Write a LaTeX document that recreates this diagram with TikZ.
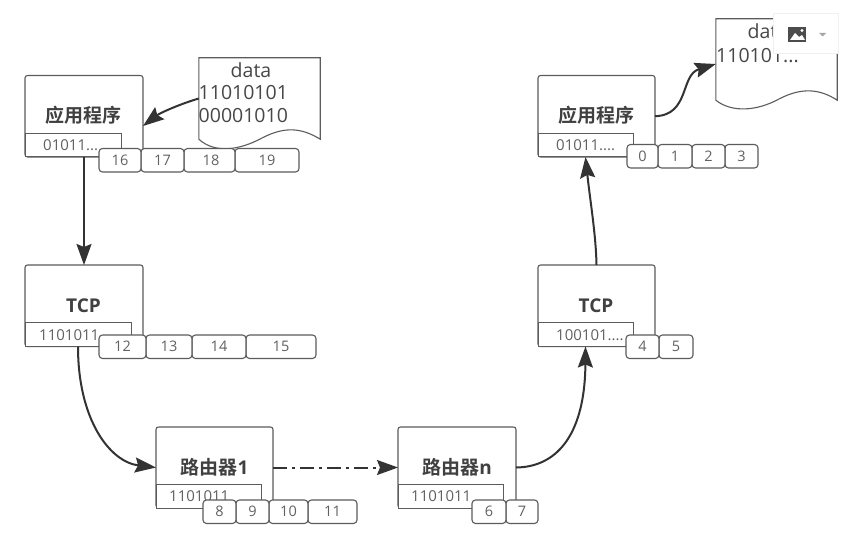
\documentclass[tikz,border=0pt]{standalone}
\usepackage{fontspec}
\setmainfont{Open Sans}
\newfontfamily\cjk{Noto Sans CJK SC}[BoldFont={Noto Sans CJK SC Bold}]
\usetikzlibrary{arrows.meta,calc}
\definecolor{ln}{gray}{0.36}
\definecolor{tx}{gray}{0.38}
\definecolor{ar}{gray}{0.2}
\tikzset{
  devbox/.style={draw=ln,line width=1.1pt,fill=white,rounded corners=2.5pt,anchor=north west,inner sep=0pt,outer sep=0pt},
  inbox/.style={draw=ln,line width=1pt,fill=white,anchor=south west,inner sep=0pt,outer sep=0pt},
  intext/.style={anchor=west,inner sep=0pt,font=\fontsize{15}{15}\selectfont,text=tx},
  cellbox/.style={draw=ln,line width=1.1pt,fill=white,rounded corners=3.5pt,anchor=north west,inner sep=0pt,outer sep=0pt,minimum height=23.5pt,font=\fontsize{14.5}{14.5}\selectfont,text=tx},
  title/.style={font=\fontsize{19}{19}\selectfont\cjk\bfseries,text=black!75,inner sep=0pt},
  doc/.style={draw=ln,line width=1.1pt,fill=white},
  doctext/.style={font=\fontsize{19.5}{19.5}\selectfont,text=black!72,inner sep=0pt},
  conn/.style={draw=ar,line width=2pt,-{Stealth[length=21pt,width=15pt,inset=3pt]}},
  docanchor/.style={inner sep=0pt,minimum width=121pt,minimum height=81pt}
}
\newcommand{\lat}{\normalfont\fontsize{19}{19}\selectfont\bfseries}
% name, x, y, w, h, inner w, title, inner text, text offset
\newcommand{\devnode}[9]{%
  \node[devbox,minimum width=#4pt,minimum height=#5pt] (#1) at (#2,#3) {};
  \node[title] (#1t) at ($(#1.center)+(0,-0.5)$) {#7};
  \node[inbox,minimum width=#6pt,minimum height=23.5pt] (#1i) at (#1.south west) {};
  \node[intext] (#1x) at ($(#1i.west)+(#9,0)$) {#8};
}
\newcommand{\cellnode}[5]{%
  \node[cellbox,minimum width=#4pt] (#1) at (#2,#3) {#5};
}
\begin{document}
\begin{tikzpicture}[x=1pt,y=-1pt]
\useasboundingbox (0,0) rectangle (859,534);
\fill[white] (0,0) rectangle (859,534);

% documents
\node[docanchor] (docl) at (259.5,98.5) {};
\draw[doc] (docl.north west) -- (docl.north east) -- (docl.south east)
  .. controls (302,128) and (285,126) .. (262,138)
  .. controls (240,150) and (215,154) .. (docl.south west) -- cycle;
\node[doctext] (docla) at (251,70) {data};
\node[doctext,anchor=west] (doclb) at (198.5,92.5) {11010101};
\node[doctext,anchor=west] (doclc) at (198.5,116) {00001010};

\node[docanchor] (docr) at (776.5,59.5) {};
\draw[doc] (docr.north west) -- (docr.north east) -- (docr.south east)
  .. controls (820,89) and (802,87) .. (779,99)
  .. controls (757,111) and (732,113) .. (docr.south west) -- cycle;
\node[doctext] (docra) at (768,31) {data};
\node[doctext,anchor=west] (docrb) at (716,56) {110101...};

% devices
\devnode{appl}{25}{75.5}{118}{81.5}{96}{\hspace{-2pt}应用程序}{01011...}{18}
\devnode{tcpl}{25}{265}{118}{81.5}{106}{\hspace{-1pt}\lat TCP}{1101011}{14}
\devnode{rtra}{156}{427}{117}{81}{105}{\hspace{0pt}路由器\lat 1}{1101011}{13}
\devnode{rtrn}{398}{427}{118}{81}{105}{\hspace{0pt}路由器\lat n}{1101011}{13}
\devnode{tcpr}{538}{265}{117}{81.5}{95}{\hspace{-1pt}\lat TCP}{100101....}{18}
\devnode{appr}{538}{75.5}{117}{81.5}{95}{\hspace{-1pt}应用程序}{01011....}{18}

% cells
\cellnode{c19}{235}{148.5}{64}{19}
\cellnode{c18}{184}{148.5}{51}{\hspace{3pt}18}
\cellnode{c17}{141}{148.5}{43}{17}
\cellnode{c16}{99}{148.5}{42}{16}
\cellnode{c15}{246}{335}{70}{15}
\cellnode{c14}{192}{335}{54}{14}
\cellnode{c13}{146}{335}{46}{13}
\cellnode{c12}{99}{335}{47}{12}
\cellnode{c11}{308}{500}{49}{11}
\cellnode{c10}{269}{500}{39}{10}
\cellnode{c9}{236}{500}{33}{9}
\cellnode{c8}{203}{500}{33}{8}
\cellnode{c7}{506}{500}{32}{7}
\cellnode{c6}{472}{500}{34}{6}
\cellnode{c5}{659}{335}{34}{5}
\cellnode{c4}{626}{335}{33}{4}
\cellnode{c3}{725}{144.5}{33}{3}
\cellnode{c2}{692}{144.5}{33}{2}
\cellnode{c1}{658}{144.5}{34}{1}
\cellnode{c0}{627}{144.5}{31}{0}

% connectors
\draw[conn] (docl.west) .. controls (180,104) and (160,113) .. (appl.east |- 0,126);
\draw[conn] (appl.south) -- (tcpl.north);
\draw[conn] (tcpli.south) .. controls (78,420) and (110,462) .. (rtra.west);
\draw[conn,dash pattern=on 14pt off 5pt on 3pt off 5pt] (rtra.east) -- (rtrn.west);
\draw[conn] (rtrn.east) .. controls (560,467) and (585,430) .. (tcpri.south);
\draw[conn] (tcpr.north) .. controls (596,235) and (590,200) .. (appri.south);
\draw[conn] (appr.east) .. controls (690,115) and (680,75) .. (docr.west |- 0,64);

% image toolbar overlay
\node[draw=black!6,line width=1pt,fill=white,inner sep=0pt,minimum width=65pt,minimum height=40pt] (tool) at (806,34) {};
\node[fill=black!70,inner sep=0pt,minimum width=18pt,minimum height=15pt] (icon) at (797,34.5) {};
\fill[white] (790,40) -- (795,33) -- (799,37) -- (802,35) -- (805,40) -- cycle;
\fill[white] (802,30.5) circle (1.6);
\fill[black!35] (819,33) -- (826,33) -- (822.5,36.5) -- cycle;
\end{tikzpicture}
\end{document}
